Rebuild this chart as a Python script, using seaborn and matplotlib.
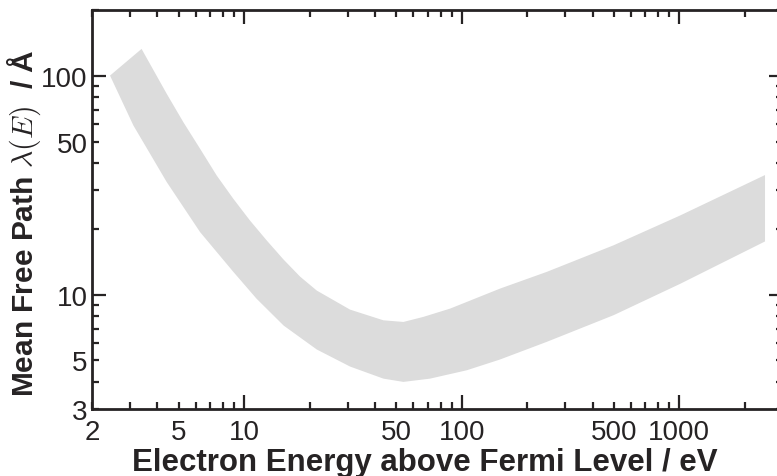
import matplotlib
matplotlib.use("Agg")
import matplotlib.pyplot as plt
import matplotlib.ticker as mticker
import seaborn as sns

# upper and lower edges of the grey band (energy in eV, mean free path in Angstrom)
upper_energy = [3.38, 4.41, 5.26, 6.28, 7.49, 8.93, 10.65, 12.7, 15.2, 18.1,
                21.6, 30.7, 43.7, 54.0, 66.7, 88.5, 150, 246, 499,
                1010, 2480]
upper_path = [132.8, 82.8, 61.4, 46.4, 35.0, 27.4, 21.8, 17.7, 14.45, 12.08,
              10.43, 8.54, 7.63, 7.50, 7.91, 8.63, 10.65, 12.7, 16.8,
              23.0, 35.2]
lower_energy = [2.42, 3.10, 3.70, 4.41, 6.28, 8.93, 11.4, 15.2, 21.6, 30.7,
                43.7, 54.0, 71.6, 105.6, 150, 246, 499, 1010, 2480]
lower_path = [100.3, 59.3, 44.0, 32.7, 19.3, 12.7, 9.59, 7.22, 5.61, 4.69,
              4.13, 3.99, 4.13, 4.51, 5.05, 6.08, 8.05, 11.2, 17.5]

x_major = [10, 100, 1000]
x_minor = [2, 3, 4, 5, 6, 7, 8, 9, 20, 30, 40, 50, 60, 70, 80, 90,
           200, 300, 400, 500, 600, 700, 800, 900, 2000, 3000]
x_minor_labels = [2, 5, 50, 500]
y_major = [10, 100]
y_minor = [3, 4, 5, 6, 7, 8, 9, 20, 30, 40, 50, 60, 70, 80, 90, 200]
y_minor_labels = [3, 5, 50]

sns.set_theme(style="ticks")
plt.rcParams["font.family"] = ["Liberation Sans", "DejaVu Sans"]
plt.rcParams["mathtext.fontset"] = "cm"

ink = "#262324"
fig = plt.figure(figsize=(7.77, 4.77), dpi=100)
ax = fig.add_axes([92 / 777, 67 / 477, 691 / 777, 399 / 477])

band_x = upper_energy + lower_energy[::-1]
band_y = upper_path + lower_path[::-1]
ax.fill(band_x, band_y, color="#dcdcdc", linewidth=0)

ax.set_xscale("log")
ax.set_yscale("log")
ax.set_xlim(2, 3000)
ax.set_ylim(3, 200)

ax.xaxis.set_major_locator(mticker.FixedLocator(x_major))
ax.xaxis.set_minor_locator(mticker.FixedLocator(x_minor))
ax.xaxis.set_major_formatter(mticker.FuncFormatter(lambda v, p: f"{v:g}"))
ax.xaxis.set_minor_formatter(mticker.FuncFormatter(
    lambda v, p: f"{v:g}" if round(v) in x_minor_labels else ""))
ax.yaxis.set_major_locator(mticker.FixedLocator(y_major))
ax.yaxis.set_minor_locator(mticker.FixedLocator(y_minor))
ax.yaxis.set_major_formatter(mticker.FuncFormatter(lambda v, p: f"{v:g}"))
ax.yaxis.set_minor_formatter(mticker.FuncFormatter(
    lambda v, p: f"{v:g}" if round(v) in y_minor_labels else ""))

ax.tick_params(which="both", direction="in", top=True, right=True,
               colors=ink, labelsize=20, width=1.6)
ax.tick_params(which="major", length=10)
ax.tick_params(which="minor", length=5)
ax.tick_params(axis="x", which="both", pad=7)
ax.tick_params(axis="y", which="both", pad=3)

for s in ax.spines.values():
    s.set_color(ink)
    s.set_linewidth(2)

ax.set_xlabel("Electron Energy above Fermi Level / eV", fontsize=22.5,
              fontweight="bold", color=ink)
ax.set_ylabel(r"Mean Free Path $\lambda(E)$  / Å", fontsize=21.5,
              fontweight="bold", color=ink)
ax.xaxis.set_label_coords((425 - 92) / 691, -0.095)
ax.yaxis.set_label_coords(-0.071, (410 - 223) / 399)

fig.savefig("out.png", dpi=100)
plt.close(fig)
